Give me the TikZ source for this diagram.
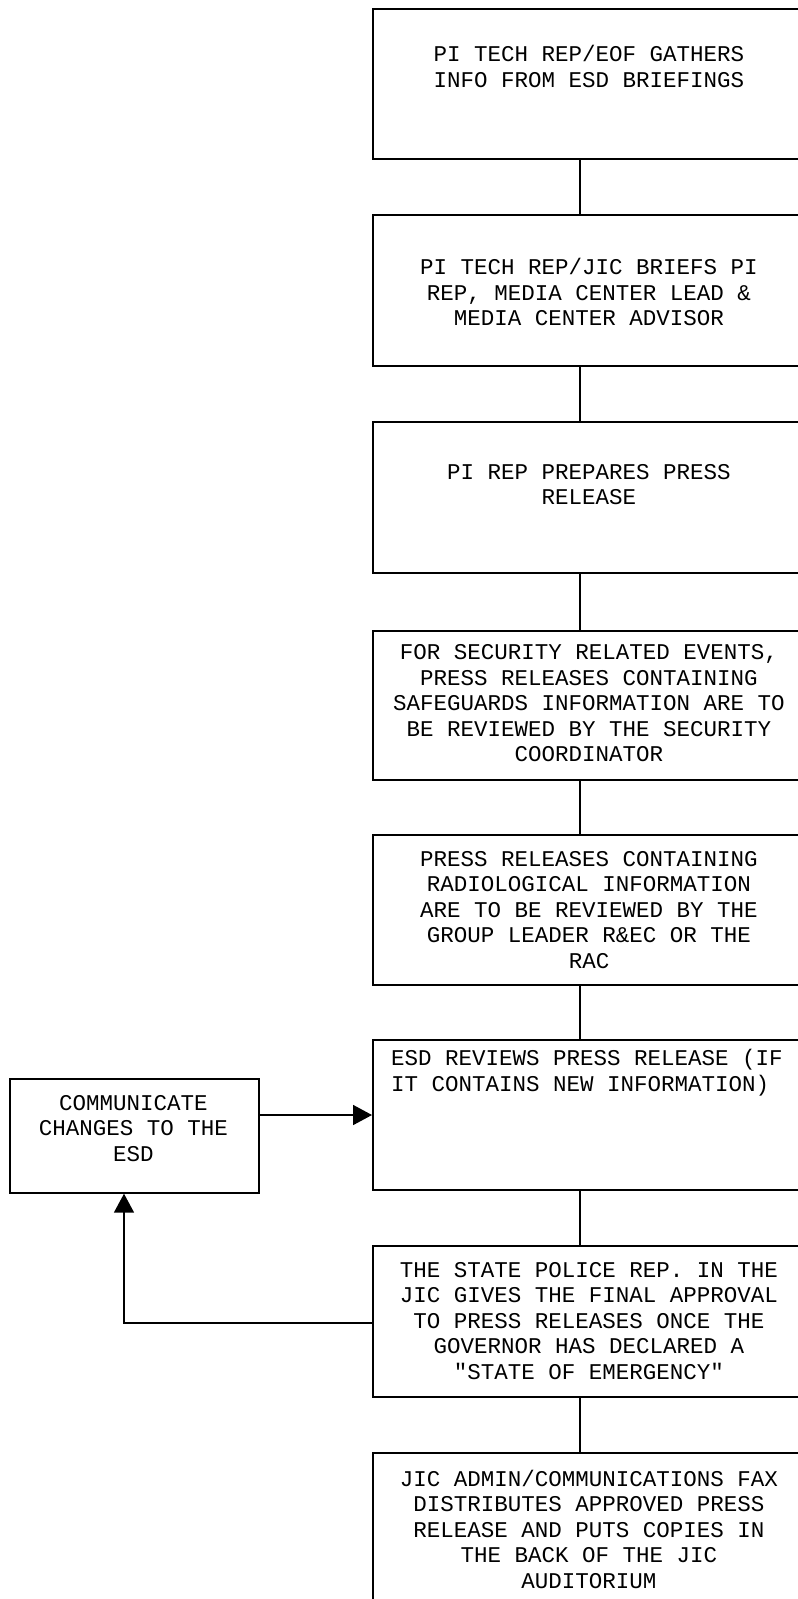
\documentclass[tikz,border=0pt]{standalone}
\usepackage{fontspec}
\setmonofont{Liberation Mono}
\usetikzlibrary{arrows.meta}
\begin{document}
\begin{tikzpicture}[x=1pt,y=-1pt,
  box/.style={draw=black,line width=1.7pt,anchor=north west,inner sep=0pt,minimum width=436pt},
  txt/.style={font=\ttfamily\fontsize{22.5}{25.5}\selectfont,align=center,inner sep=0pt},
  link/.style={line width=1.7pt},
  arr/.style={line width=1.7pt,-{Triangle[length=19pt,width=20pt]}}]
\useasboundingbox (0,0) rectangle (798,1599);
\clip (0,0) rectangle (798,1599);
\fill[white] (0,0) rectangle (798,1599);
\coordinate (cx) at (580,0);
\coordinate (ay) at (0,1115);
\coordinate (fy) at (0,1323);
\coordinate (fx) at (124,0);
% boxes
\node[box,minimum height=150pt] (b1) at (372,8) {};
\node[box,minimum height=151pt] (b2) at (372,214) {};
\node[box,minimum height=151pt] (b3) at (372,421) {};
\node[box,minimum height=149pt] (b4) at (372,630) {};
\node[box,minimum height=150pt] (b5) at (372,834) {};
\node[box,minimum height=150pt] (b6) at (372,1039) {};
\node[box,minimum height=151pt] (b7) at (372,1245) {};
\node[box,minimum height=220pt] (b8) at (372,1452) {};
\node[box,minimum width=249pt,minimum height=114pt] (lb) at (9,1078) {};
% texts
\node[txt] (t1) at (589,66.5) {PI TECH REP/EOF GATHERS\\INFO FROM ESD BRIEFINGS};
\node[txt] (t2) at (589,292) {PI TECH REP/JIC BRIEFS PI\\REP, MEDIA CENTER LEAD \&\\MEDIA CENTER ADVISOR};
\node[txt] (t3) at (589,484.5) {PI REP PREPARES PRESS\\RELEASE};
\node[txt] (t4) at (589,703.5) {FOR SECURITY RELATED EVENTS,\\PRESS RELEASES CONTAINING\\SAFEGUARDS INFORMATION ARE TO\\BE REVIEWED BY THE SECURITY\\COORDINATOR};
\node[txt] (t5) at (589,910) {PRESS RELEASES CONTAINING\\RADIOLOGICAL INFORMATION\\ARE TO BE REVIEWED BY THE\\GROUP LEADER R\&EC OR THE\\RAC};
\node[txt,align=left,anchor=west] (t6) at (391,1072.5) {ESD REVIEWS PRESS RELEASE (IF\\IT CONTAINS NEW INFORMATION)};
\node[txt] (t7) at (589,1321) {THE STATE POLICE REP. IN THE\\JIC GIVES THE FINAL APPROVAL\\TO PRESS RELEASES ONCE THE\\GOVERNOR HAS DECLARED A\\"STATE OF EMERGENCY"};
\node[txt] (t8) at (589,1529) {JIC ADMIN/COMMUNICATIONS FAX\\DISTRIBUTES APPROVED PRESS\\RELEASE AND PUTS COPIES IN\\THE BACK OF THE JIC\\AUDITORIUM};
\node[txt] (tl) at (133.5,1128.5) {COMMUNICATE\\CHANGES TO THE\\ESD};
% connectors
\draw[link] (b1.south -| cx) -- (b2.north -| cx);
\draw[link] (b2.south -| cx) -- (b3.north -| cx);
\draw[link] (b3.south -| cx) -- (b4.north -| cx);
\draw[link] (b4.south -| cx) -- (b5.north -| cx);
\draw[link] (b5.south -| cx) -- (b6.north -| cx);
\draw[link] (b6.south -| cx) -- (b7.north -| cx);
\draw[link] (b7.south -| cx) -- (b8.north -| cx);
\draw[arr] (lb.east |- ay) -- (b6.west |- ay);
\draw[arr] (b7.west |- fy) -- (fx |- fy) -- (lb.south -| fx);
\end{tikzpicture}
\end{document}
